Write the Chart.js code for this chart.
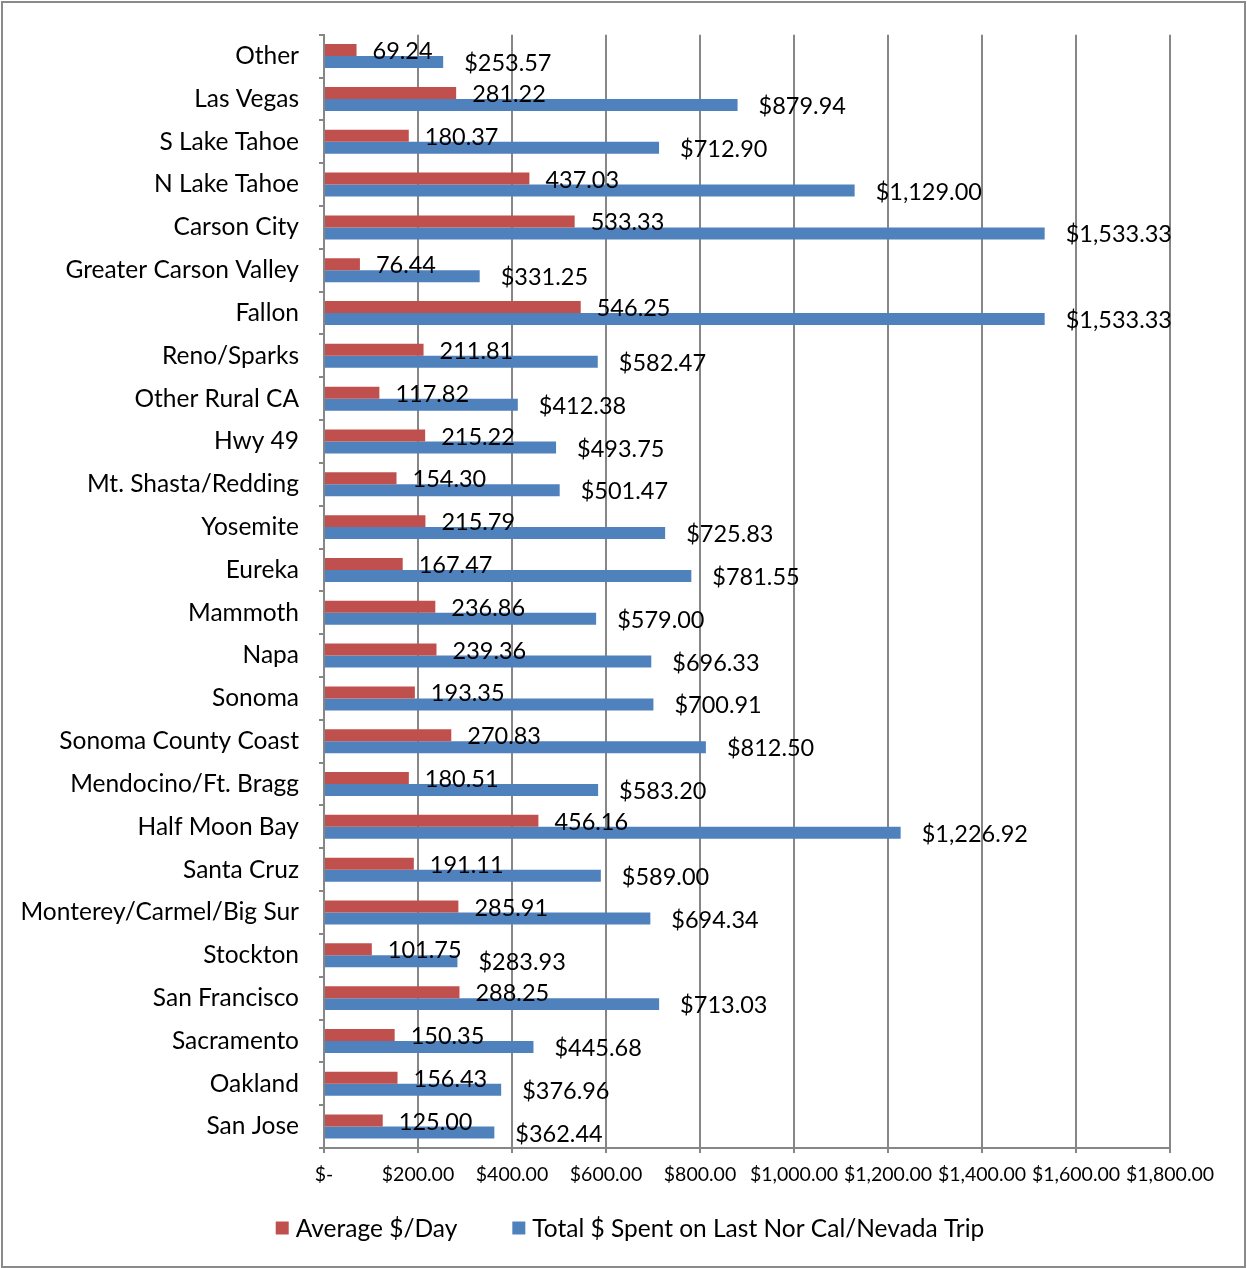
<!DOCTYPE html>
<html>
<head>
<meta charset="utf-8">
<script src="https://cdn.jsdelivr.net/npm/chart.js@4.4.1/dist/chart.umd.min.js"></script>
<style>
  html, body { margin: 0; padding: 0; background: #fff; }
  canvas { display: block; }
</style>
</head>
<body>
<canvas id="myChart" width="1247" height="1268"></canvas>
<script>
// destinations, top to bottom
const places = ["Other", "Las Vegas", "S Lake Tahoe", "N Lake Tahoe", "Carson City",
  "Greater Carson Valley", "Fallon", "Reno/Sparks", "Other Rural CA", "Hwy 49",
  "Mt. Shasta/Redding", "Yosemite", "Eureka", "Mammoth", "Napa", "Sonoma",
  "Sonoma County Coast", "Mendocino/Ft. Bragg", "Half Moon Bay", "Santa Cruz",
  "Monterey/Carmel/Big Sur", "Stockton", "San Francisco", "Sacramento", "Oakland", "San Jose"];

const perDay = [69.24, 281.22, 180.37, 437.03, 533.33, 76.44, 546.25, 211.81, 117.82, 215.22,
  154.30, 215.79, 167.47, 236.86, 239.36, 193.35, 270.83, 180.51, 456.16, 191.11,
  285.91, 101.75, 288.25, 150.35, 156.43, 125.00];

const tripTotal = [253.57, 879.94, 712.90, 1129.00, 1533.33, 331.25, 1533.33, 582.47, 412.38, 493.75,
  501.47, 725.83, 781.55, 579.00, 696.33, 700.91, 812.50, 583.20, 1226.92, 589.00,
  694.34, 283.93, 713.03, 445.68, 376.96, 362.44];

const seriesNames = ["Average $/Day", "Total $ Spent on Last Nor Cal/Nevada Trip"];
const xMax = 1800, xStep = 200;

const FONT = "Lato, 'Open Sans', sans-serif";
const GRID = "#868686";

function money(v) {
  if (v === 0) return "$-";
  return "$" + v.toLocaleString("en-US", { minimumFractionDigits: 2, maximumFractionDigits: 2 });
}

// value text next to each bar end
const barLabels = {
  id: "barLabels",
  afterDatasetsDraw(chart) {
    const ctx = chart.ctx;
    ctx.save();
    ctx.font = "23.5px " + FONT;
    ctx.fillStyle = "#000";
    ctx.textBaseline = "middle";
    ctx.textAlign = "left";
    chart.data.datasets.forEach((ds, di) => {
      const meta = chart.getDatasetMeta(di);
      meta.data.forEach((bar, i) => {
        const v = ds.data[i];
        const txt = di === 0 ? v.toFixed(2) : money(v);
        ctx.fillText(txt, bar.x + (di === 0 ? 16 : 21), bar.y + 1.5);
      });
    });
    ctx.restore();
  }
};

// frame around the whole picture + legend under the axis
const frameAndKey = {
  id: "frameAndKey",
  afterDraw(chart) {
    const ctx = chart.ctx;
    ctx.save();
    ctx.strokeStyle = "#8a8a8a";
    ctx.lineWidth = 2;
    ctx.strokeRect(2, 2, chart.width - 4, chart.height - 3);

    ctx.font = "24.5px " + FONT;
    ctx.textBaseline = "middle";
    const box = 13, gapText = 7, gapItem = 55, y = 1228;
    const widths = chart.data.datasets.map(d => box + gapText + ctx.measureText(d.label).width);
    const total = widths.reduce((a, b) => a + b, 0) + gapItem * (widths.length - 1);
    let x = 630 - total / 2;
    chart.data.datasets.forEach((d, i) => {
      ctx.fillStyle = d.backgroundColor;
      ctx.fillRect(x, y - box / 2, box, box);
      ctx.fillStyle = "#000";
      ctx.fillText(d.label, x + box + gapText, y + 1);
      x += widths[i] + gapItem;
    });
    ctx.restore();
  }
};

new Chart(document.getElementById("myChart"), {
  type: "bar",
  data: {
    labels: places,
    datasets: [
      { label: seriesNames[0], data: perDay, backgroundColor: "#C0504D" },
      { label: seriesNames[1], data: tripTotal, backgroundColor: "#4F81BD" }
    ]
  },
  options: {
    indexAxis: "y",
    responsive: false,
    animation: false,
    devicePixelRatio: 1,
    layout: { padding: { top: 32, right: 77, bottom: 60, left: 0 } },
    datasets: { bar: { categoryPercentage: 0.56, barPercentage: 1.0 } },
    plugins: {
      legend: { display: false },
      tooltip: { enabled: false }
    },
    scales: {
      x: {
        min: 0,
        max: xMax,
        ticks: {
          stepSize: xStep,
          color: "#000",
          font: { family: FONT, size: 19.5 },
          padding: 10,
          maxRotation: 0,
          callback: v => money(v)
        },
        grid: { color: GRID, lineWidth: 2, tickLength: 5 },
        border: { color: GRID, width: 2 },
        afterFit: s => { s.height = 60; }
      },
      y: {
        ticks: {
          color: "#000",
          font: { family: FONT, size: 24.5 },
          padding: 20,
          autoSkip: false
        },
        grid: { color: GRID, lineWidth: 2, tickLength: 5, drawOnChartArea: false, offset: true },
        border: { color: GRID, width: 2 },
        afterFit: s => { s.width = 324; }
      }
    }
  },
  plugins: [barLabels, frameAndKey]
});
</script>
</body>
</html>
